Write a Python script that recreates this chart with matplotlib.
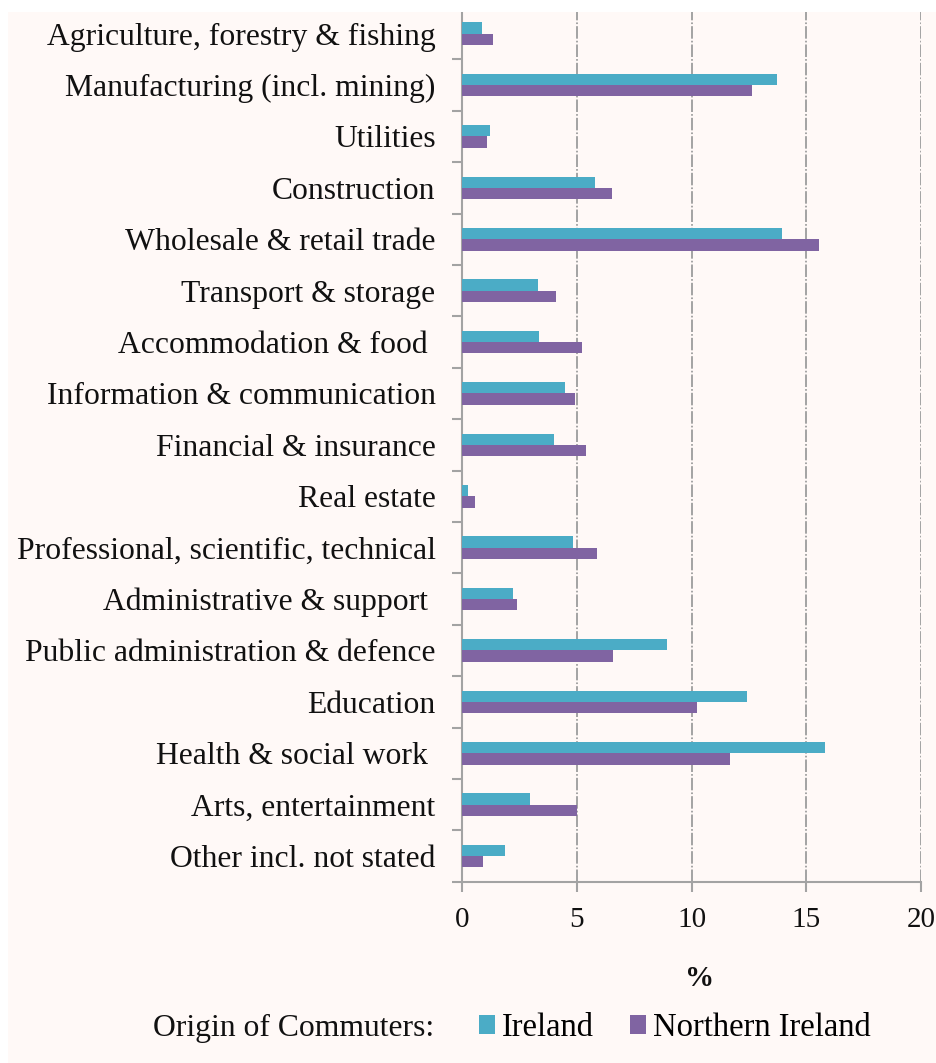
import matplotlib
matplotlib.use("Agg")
import matplotlib.pyplot as plt
from matplotlib.patches import Rectangle, Patch
import numpy as np

categories = [
    "Agriculture, forestry & fishing",
    "Manufacturing (incl. mining)",
    "Utilities",
    "Construction",
    "Wholesale & retail trade",
    "Transport & storage",
    "Accommodation & food ",
    "Information & communication",
    "Financial & insurance",
    "Real estate",
    "Professional, scientific, technical",
    "Administrative & support ",
    "Public administration & defence",
    "Education",
    "Health & social work ",
    "Arts, entertainment",
    "Other incl. not stated",
]
ireland = [0.86, 13.71, 1.22, 5.81, 13.93, 3.30, 3.37, 4.50, 4.01, 0.25,
           4.85, 2.22, 8.95, 12.42, 15.82, 2.95, 1.87]
northern_ireland = [1.34, 12.65, 1.09, 6.54, 15.56, 4.11, 5.24, 4.94, 5.40, 0.57,
                    5.90, 2.40, 6.58, 10.25, 11.69, 5.00, 0.93]
x_ticks = [0, 5, 10, 15, 20]
series_names = ["Ireland", "Northern Ireland"]

C_IRL = "#4BACC6"
C_NI = "#8064A2"
BG = "#FFF9F7"
GRID = "#A3A3A3"
FONT = ["Liberation Serif", "DejaVu Serif"]

plt.rcParams["font.family"] = FONT
plt.rcParams["lines.scale_dashes"] = False

W, H = 936, 1063
fig = plt.figure(figsize=(W / 100, H / 100), dpi=100, facecolor="white")
fig.patches.append(Rectangle((8 / W, 0), 1, 1 - 12 / H, transform=fig.transFigure,
                             facecolor=BG, edgecolor="none", zorder=-10))

ax = fig.add_axes([462 / W, 1 - 881.7 / H, (921 - 462) / W, (881.7 - 8) / H])
ax.set_facecolor(BG)
ax.patch.set_alpha(0)

n = len(categories)
y = np.arange(n)
bh = 0.22
ax.barh(y - bh / 2, ireland, height=bh, color=C_IRL, zorder=3)
ax.barh(y + bh / 2, northern_ireland, height=bh, color=C_NI, zorder=3)

ax.set_xlim(0, 20)
ax.set_ylim(n - 0.5, -0.5)

# gridlines
for xv in x_ticks[1:]:
    ax.axvline(xv, color=GRID, lw=1.4, dashes=(9, 1.5, 1.2, 1.5), zorder=1)

for s in ["top", "right"]:
    ax.spines[s].set_visible(False)
for s in ["left", "bottom"]:
    ax.spines[s].set_color(GRID)
    ax.spines[s].set_linewidth(1.5)

ax.set_yticks(np.arange(-0.5, n, 1.0))
ax.set_yticklabels([])
ax.tick_params(axis="y", which="major", length=7.5, width=1.5, color=GRID, direction="out")
ax.set_yticks(y, minor=True)
ax.set_yticklabels(categories, minor=True, fontsize=22.8, color="#111111")
ax.tick_params(axis="y", which="minor", length=0, pad=19)

ax.set_xticks(x_ticks)
ax.set_xticklabels([str(v) for v in x_ticks], fontsize=21, color="#111111")
ax.tick_params(axis="x", length=7.5, width=1.5, color=GRID, pad=11)

fig.text(700 / W, 1 - 978 / H, "%", ha="center", va="center", fontsize=21,
         fontweight="bold", color="#111111")

fig.text(153 / W, 1 - 1028 / H, "Origin of Commuters:", ha="left", va="center",
         fontsize=22.8, color="#111111")
handles = [Patch(facecolor=C_IRL, edgecolor="none"), Patch(facecolor=C_NI, edgecolor="none")]
fig.legend(handles, series_names, loc="center left", bbox_to_anchor=(479 / W, 1 - 1028 / H),
           ncol=2, frameon=False, fontsize=23.5, handlelength=0.5, handleheight=0.5,
           handletextpad=0.2, columnspacing=1.1, borderpad=0, borderaxespad=0)

fig.patches.append(Rectangle((0, 1 - 12 / H), 1, 12 / H, transform=fig.transFigure,
                             facecolor="white", edgecolor="none", zorder=50))

fig.savefig("out.png", dpi=100, facecolor="white")
